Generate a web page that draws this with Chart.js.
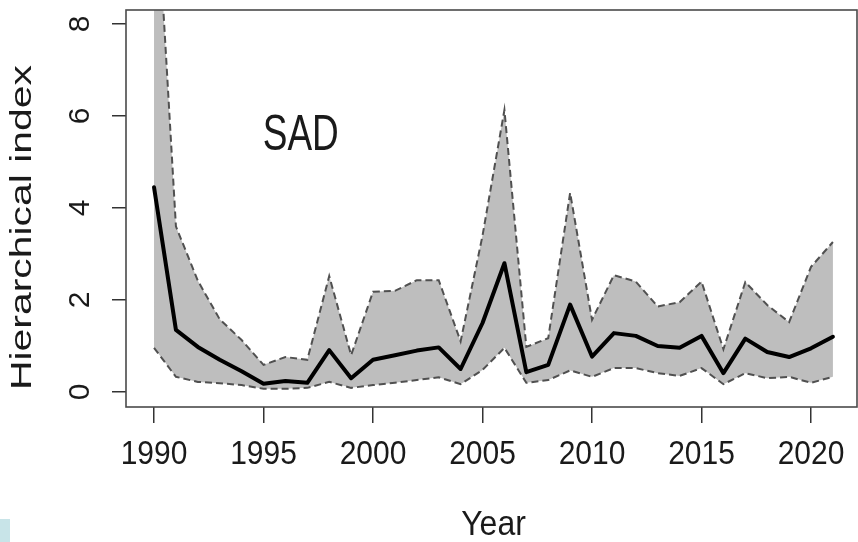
<!DOCTYPE html>
<html>
<head>
<meta charset="utf-8">
<script src="https://cdn.jsdelivr.net/npm/chart.js@4.4.1/dist/chart.umd.min.js"></script>
<style>
  html, body { margin: 0; padding: 0; background: #fff; }
  #wrap { position: relative; width: 858px; height: 542px; }
</style>
</head>
<body>
<div id="wrap"><canvas id="indexChart"></canvas></div>
<script>
const years = [1990, 1991, 1992, 1993, 1994, 1995, 1996, 1997, 1998, 1999,
  2000, 2001, 2002, 2003, 2004, 2005, 2006, 2007, 2008, 2009,
  2010, 2011, 2012, 2013, 2014, 2015, 2016, 2017, 2018, 2019, 2020, 2021];

const meanIndex = [4.45, 1.35, 0.98, 0.70, 0.45, 0.18, 0.24, 0.20, 0.91, 0.30,
  0.70, 0.80, 0.90, 0.97, 0.50, 1.50, 2.80, 0.43, 0.59, 1.90,
  0.77, 1.28, 1.22, 1.00, 0.96, 1.22, 0.41, 1.16, 0.87, 0.76, 0.95, 1.20];

const upperIndex = [11.8, 3.60, 2.42, 1.58, 1.13, 0.59, 0.76, 0.70, 2.52, 0.80,
  2.18, 2.20, 2.43, 2.43, 1.10, 3.40, 6.13, 0.98, 1.17, 4.33,
  1.57, 2.54, 2.40, 1.86, 1.95, 2.40, 0.93, 2.39, 1.89, 1.52, 2.72, 3.26];

const lowerIndex = [0.96, 0.33, 0.22, 0.19, 0.15, 0.07, 0.07, 0.09, 0.22, 0.09,
  0.15, 0.20, 0.26, 0.32, 0.17, 0.48, 0.96, 0.20, 0.26, 0.47,
  0.33, 0.52, 0.52, 0.41, 0.35, 0.52, 0.17, 0.41, 0.30, 0.33, 0.20, 0.33];

const xTicks = [1990, 1995, 2000, 2005, 2010, 2015, 2020];
const yTicks = [0, 2, 4, 6, 8];

const panelLabel = 'SAD';
const xTitle = 'Year';
const yTitle = 'Hierarchical index';

function toPoints(values) {
  return years.map((yr, i) => ({ x: yr, y: values[i] }));
}

// centred text, optionally rotated and stretched
function drawText(ctx, text, x, y, size, rot, sx, sy) {
  ctx.save();
  ctx.translate(x, y);
  if (rot) ctx.rotate(rot);
  ctx.scale(sx, sy);
  ctx.font = size + 'px "Liberation Sans", Arial, sans-serif';
  ctx.fillStyle = '#1a1a1a';
  ctx.textAlign = 'center';
  ctx.textBaseline = 'middle';
  ctx.fillText(text, 0, 0);
  ctx.restore();
}

// box round the plot, tick labels and titles in base-graphics style
const baseAxes = {
  id: 'baseAxes',
  afterDatasetsDraw(chart) {
    const ctx = chart.ctx;
    const area = chart.chartArea;
    ctx.save();
    ctx.strokeStyle = '#4a4a4a';
    ctx.lineWidth = 1.6;
    ctx.strokeRect(area.left, area.top, area.right - area.left, area.bottom - area.top);
    ctx.restore();
  },
  afterDraw(chart) {
    const ctx = chart.ctx;
    const area = chart.chartArea;
    const xs = chart.scales.x;
    const ys = chart.scales.y;

    xTicks.forEach(v => {
      drawText(ctx, String(v), xs.getPixelForValue(v), area.bottom + 48, 30, 0, 1, 1.12);
    });
    yTicks.forEach(v => {
      drawText(ctx, String(v), area.left - 45, ys.getPixelForValue(v), 30, -Math.PI / 2, 1, 1);
    });

    drawText(ctx, xTitle, (area.left + area.right) / 2 + 2, area.bottom + 118, 32, 0, 1, 1.08);
    drawText(ctx, yTitle, 23, (area.top + area.bottom) / 2 + 19, 29, -Math.PI / 2, 1.41, 1);
    drawText(ctx, panelLabel, xs.getPixelForValue(1996.7), ys.getPixelForValue(5.55), 37, 0, 1, 1.34);

    // small tinted corner block
    ctx.save();
    ctx.fillStyle = '#c8e4e8';
    ctx.fillRect(0, 519, 10, 23);
    ctx.restore();
  }
};

const ctx = document.getElementById('indexChart').getContext('2d');
const myChart = new Chart(ctx, {
  type: 'line',
  data: {
    datasets: [{
      label: 'upper',
      data: toPoints(upperIndex),
      borderColor: '#505050',
      borderWidth: 2,
      borderDash: [7, 4],
      backgroundColor: '#bebebe',
      fill: '+1',
      pointRadius: 0,
      tension: 0,
      clip: 0,
      order: 1
    }, {
      label: 'lower',
      data: toPoints(lowerIndex),
      borderColor: '#505050',
      borderWidth: 2,
      borderDash: [7, 4],
      fill: false,
      pointRadius: 0,
      tension: 0,
      clip: 0,
      order: 2
    }, {
      label: 'mean',
      data: toPoints(meanIndex),
      borderColor: '#000000',
      borderWidth: 4,
      borderJoinStyle: 'round',
      borderCapStyle: 'round',
      fill: false,
      pointRadius: 0,
      tension: 0,
      clip: 0,
      order: 0
    }]
  },
  options: {
    responsive: true,
    maintainAspectRatio: false,
    animation: false,
    events: [],
    layout: { padding: { top: 10, right: 1, left: 0, bottom: 0 } },
    plugins: {
      legend: { display: false },
      tooltip: { enabled: false },
      filler: { drawTime: 'beforeDatasetsDraw' }
    },
    scales: {
      x: {
        type: 'linear',
        min: 1988.72,
        max: 2022.1,
        afterBuildTicks: (scale) => { scale.ticks = xTicks.map(v => ({ value: v })); },
        afterFit: (scale) => { scale.height = 135; },
        ticks: { display: false },
        border: { display: false },
        grid: { drawOnChartArea: false, drawTicks: true, tickLength: 16, color: '#333', lineWidth: 1.5 }
      },
      y: {
        type: 'linear',
        min: -0.326,
        max: 8.304,
        afterBuildTicks: (scale) => { scale.ticks = yTicks.map(v => ({ value: v })); },
        afterFit: (scale) => { scale.width = 126; },
        ticks: { display: false },
        border: { display: false },
        grid: { drawOnChartArea: false, drawTicks: true, tickLength: 14, color: '#333', lineWidth: 1.5 }
      }
    }
  },
  plugins: [baseAxes]
});
</script>
</body>
</html>
